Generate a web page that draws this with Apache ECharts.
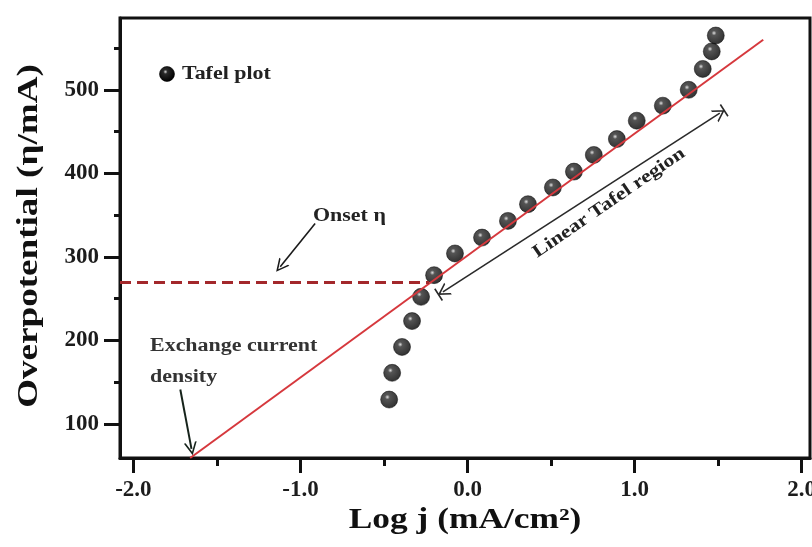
<!DOCTYPE html>
<html>
<head>
<meta charset="utf-8">
<script src="https://cdn.jsdelivr.net/npm/echarts@6.0.0/dist/echarts.min.js"></script>
<style>
	html, body { margin: 0; padding: 0; background: #fff; }
	#chart { width: 812px; height: 547px; }
</style>
</head>
<body>
<div id="chart"></div>
<script>
// Tafel plot points
var logJ = [-0.469, -0.451, -0.392, -0.332, -0.278, -0.200, -0.075, 0.087, 0.242, 0.362,
	0.511, 0.637, 0.756, 0.894, 1.013, 1.169, 1.324, 1.408, 1.462, 1.486];
var eta = [129, 161, 192, 223, 252, 278, 304, 323, 343, 363,
	383, 402, 422, 441, 463, 481, 500, 525, 546, 565];

// linear fit (red line) and onset level (dashed)
var fitX = [-1.66, 1.77];
var fitY = [59, 560];
var onsetEta = 269;
var onsetX = [-2.08, -0.23];

// ticks
var xTicks = [-2, -1, 0, 1, 2];
var xMinorTicks = [-1.5, -0.5, 0.5, 1.5];
var yTicks = [100, 200, 300, 400, 500];
var yMinorTicks = [150, 250, 350, 450, 550];

// annotation arrows [start, end] in data units
var onsetArrow = [[-0.912, 340], [-1.121, 288]];
var exchangeArrow = [[-1.719, 141], [-1.652, 70]];
var tafelArrow = [[-0.147, 258], [1.510, 472]];

var FONT = "'Liberation Serif', 'DejaVu Serif', serif";
var chevron = 'path://M0,12 L6,0 L12,12 L10.4,12 L6,3.2 L1.6,12 Z';
var chevronBar = 'path://M0,0 L12,0 L12,1.6 L0,1.6 Z M0,12 L6,0 L12,12 L10.4,12 L6,3.2 L1.6,12 Z';
var SX = 1.22; // the source figure is stretched sideways

var pts = logJ.map(function (v, i) { return [v, eta[i]]; });
var fit = fitX.map(function (v, i) { return [v, fitY[i]]; });

var ball = new echarts.graphic.RadialGradient(0.4, 0.36, 0.62, [
	{ offset: 0, color: '#d8d8d8' },
	{ offset: 0.22, color: '#2a2a2a' },
	{ offset: 1, color: '#000' }
]);

function label(x, y, text, size, extra) {
	var el = {
		type: 'text', x: x, y: y, scaleX: SX,
		style: { text: text, font: 'bold ' + size + 'px ' + FONT, fill: '#222', verticalAlign: 'middle' }
	};
	for (var k in extra) el[k] = extra[k];
	return el;
}

var myChart = echarts.init(document.getElementById('chart'), null, { renderer: 'canvas' });

var option = {
	animation: false,
	backgroundColor: '#fff',
	grid: {
		left: 120, right: 2, top: 18, bottom: 89,
		show: true, borderColor: '#111', borderWidth: 3,
		containLabel: false, outerBoundsMode: 'none'
	},
	xAxis: [{
		type: 'value', min: -2.08, max: 2.05,
		position: 'bottom',
		axisLine: { show: true, onZero: false, lineStyle: { color: '#111', width: 3 } },
		axisTick: { show: true, inside: false, length: 15, customValues: xTicks, lineStyle: { color: '#111', width: 3 } },
		axisLabel: {
			customValues: xTicks, margin: 21,
			fontFamily: FONT, fontWeight: 'bold', fontSize: 23, color: '#1c1c1c',
			formatter: function (v) { return v.toFixed(1); }
		},
		splitLine: { show: false }
	}, {
		type: 'value', min: -2.08, max: 2.05,
		position: 'bottom', offset: 0,
		axisLine: { show: false, onZero: false },
		axisTick: { show: true, length: 8, customValues: xMinorTicks, lineStyle: { color: '#111', width: 3 } },
		axisLabel: { show: false },
		splitLine: { show: false }
	}],
	yAxis: [{
		type: 'value', min: 59, max: 586,
		position: 'left',
		axisLine: { show: true, onZero: false, lineStyle: { color: '#111', width: 3 } },
		axisTick: { show: true, inside: false, length: 16, customValues: yTicks, lineStyle: { color: '#111', width: 3 } },
		axisLabel: {
			customValues: yTicks, margin: 21,
			fontFamily: FONT, fontWeight: 'bold', fontSize: 23, color: '#1c1c1c'
		},
		splitLine: { show: false }
	}, {
		type: 'value', min: 59, max: 586,
		position: 'left', offset: 0,
		axisLine: { show: false, onZero: false },
		axisTick: { show: true, length: 6, customValues: yMinorTicks, lineStyle: { color: '#111', width: 3 } },
		axisLabel: { show: false },
		splitLine: { show: false }
	}],
	series: [{
		// onset dashed level + annotation arrows
		type: 'line',
		data: [],
		silent: true,
		markLine: {
			silent: true,
			animation: false,
			label: { show: false },
			emphasis: { disabled: true },
			data: [
				[{ coord: [onsetX[0], onsetEta], symbol: 'none', lineStyle: { color: '#a3282b', width: 3, type: [11, 6] } },
					{ coord: [onsetX[1], onsetEta], symbol: 'none' }],
				[{ coord: onsetArrow[0], symbol: 'none', lineStyle: { color: '#1a1a1a', width: 1.6, type: 'solid' } },
					{ coord: onsetArrow[1], symbol: chevron, symbolSize: [13, 13] }],
				[{ coord: exchangeArrow[0], symbol: 'none', lineStyle: { color: '#16231b', width: 2, type: 'solid' } },
					{ coord: exchangeArrow[1], symbol: chevron, symbolSize: [13, 13] }],
				[{ coord: tafelArrow[0], symbol: chevronBar, symbolSize: [14, 12], lineStyle: { color: '#2a2a2a', width: 1.6, type: 'solid' } },
					{ coord: tafelArrow[1], symbol: chevronBar, symbolSize: [14, 12] }]
			]
		}
	}, {
		name: 'Tafel plot',
		type: 'scatter',
		data: pts,
		symbol: 'circle',
		symbolSize: 17,
		z: 3,
		itemStyle: { color: ball, borderColor: '#000', borderWidth: 0.6 }
	}, {
		name: 'fit',
		type: 'line',
		data: fit,
		symbol: 'none',
		z: 4,
		lineStyle: { color: '#d6383d', width: 2 }
	}],
	graphic: [
		{ type: 'circle', shape: { cx: 167, cy: 74, r: 7.5 }, style: { fill: ball, stroke: '#000', lineWidth: 0.6 } },
		label(182, 74, 'Tafel plot', 18),
		label(313, 216, 'Onset η', 18),
		label(150, 346, 'Exchange current', 18, { style: { text: 'Exchange current', font: 'bold 18px ' + FONT, fill: '#333', verticalAlign: 'middle' } }),
		label(150, 377, 'density', 18, { style: { text: 'density', font: 'bold 18px ' + FONT, fill: '#333', verticalAlign: 'middle' } }),
		label(609, 203, 'Linear Tafel region', 18, {
			rotation: 0.604,
			style: { text: 'Linear Tafel region', font: 'bold 18px ' + FONT, fill: '#222', align: 'center', verticalAlign: 'middle' }
		}),
		// axis titles
		label(465, 521, 'Log j (mA/cm²)', 29, {
			style: { text: 'Log j (mA/cm²)', font: 'bold 29px ' + FONT, fill: '#111', align: 'center', verticalAlign: 'middle' }
		}),
		label(30, 236, 'Overpotential (η/mA)', 29, {
			rotation: Math.PI / 2, scaleX: 1.28,
			style: { text: 'Overpotential (η/mA)', font: 'bold 29px ' + FONT, fill: '#111', align: 'center', verticalAlign: 'middle' }
		})
	]
};

myChart.setOption(option);
</script>
</body>
</html>
